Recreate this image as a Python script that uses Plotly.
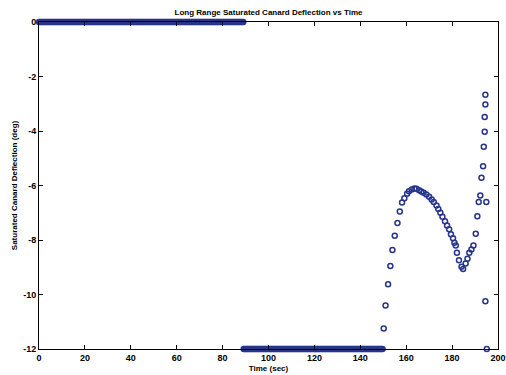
import numpy as np
import plotly.graph_objects as go

# Flat (saturated) segments: start time, end time, deflection value
flat_start = [0.0, 89.2]
flat_end = [89.2, 149.8]
flat_value = [0.0, -12.0]
flat_step = 0.5  # dense sampling seen as a solid band of circles

# Active-control part
t_curve = [150.2, 151.0, 152.1, 153.1, 154.0, 155.0, 156.2, 157.2, 158.2, 159.2,
           160.4, 161.2, 162.4, 163.6, 164.5, 165.6, 166.6, 167.6, 168.8, 170.0,
           171.1, 172.0, 173.2, 174.0, 174.9, 175.8, 176.9, 177.8, 178.7, 179.5,
           180.4, 181.0, 181.6, 182.1, 183.0, 184.1, 184.8, 185.9, 186.7, 187.5,
           188.4, 189.3, 190.3, 191.0, 191.6, 192.3, 192.8, 193.5, 193.8, 194.2,
           194.2, 194.5, 194.5, 194.9, 194.5, 195.1]
y_curve = [-11.25, -10.40, -9.62, -8.95, -8.37, -7.84, -7.38, -6.95, -6.62, -6.47,
           -6.30, -6.21, -6.15, -6.11, -6.12, -6.17, -6.22, -6.27, -6.33, -6.41,
           -6.51, -6.61, -6.73, -6.86, -7.00, -7.15, -7.31, -7.47, -7.61, -7.79,
           -7.94, -8.10, -8.20, -8.47, -8.74, -8.98, -9.06, -8.86, -8.69, -8.47,
           -8.35, -8.20, -7.77, -7.13, -6.61, -6.37, -5.72, -5.29, -4.58, -4.03,
           -3.49, -3.03, -2.67, -6.61, -10.25, -12.0]

x_ticks = [0, 20, 40, 60, 80, 100, 120, 140, 160, 180, 200]
y_ticks = [0, -2, -4, -6, -8, -10, -12]

t_all, y_all = [], []
for s, e, v in zip(flat_start, flat_end, flat_value):
    ts = np.arange(s, e + 1e-9, flat_step)
    t_all.extend(ts.tolist())
    y_all.extend([v] * len(ts))
t_all.extend(t_curve)
y_all.extend(y_curve)

navy = "#27368a"
font_fam = "Liberation Sans, Arial, sans-serif"

fig = go.Figure()
fig.add_trace(go.Scatter(
    x=t_all, y=y_all, mode="markers", cliponaxis=False,
    marker=dict(symbol="circle-open", size=5, color=navy, line=dict(width=1.5, color=navy)),
    showlegend=False,
))

axis_common = dict(
    showline=True, linecolor="black", linewidth=1, mirror="ticks",
    ticks="inside", ticklen=4, tickcolor="black", tickwidth=1,
    showgrid=False, zeroline=False, automargin=False,
    tickfont=dict(family=font_fam, size=9, color="black", weight="bold"),
)

fig.update_layout(
    width=506, height=375,
    margin=dict(l=39, r=8, t=22, b=26),
    paper_bgcolor="white", plot_bgcolor="white",
    font=dict(family=font_fam, color="black"),
    title=dict(text="Long Range Saturated Canard Deflection vs Time",
               x=0.5, xanchor="center", y=1 - 12 / 375, yanchor="middle",
               xref="paper", yref="container",
               font=dict(family=font_fam, size=8, color="black", weight="bold")),
    xaxis=dict(range=[0, 200], tickvals=x_ticks, ticktext=[str(v) for v in x_ticks],
               title=dict(text="Time (sec)", standoff=3,
                          font=dict(family=font_fam, size=8, color="black", weight="bold")),
               ticklabelstandoff=0,
               **axis_common),
    yaxis=dict(range=[-12, 0], tickvals=y_ticks, ticktext=[str(v) for v in y_ticks],
               title=dict(text="Saturated Canard Deflection (deg)", standoff=4,
                          font=dict(family=font_fam, size=8, color="black", weight="bold")),
               ticklabelstandoff=0,
               **axis_common),
)

fig.write_html("out.html")
